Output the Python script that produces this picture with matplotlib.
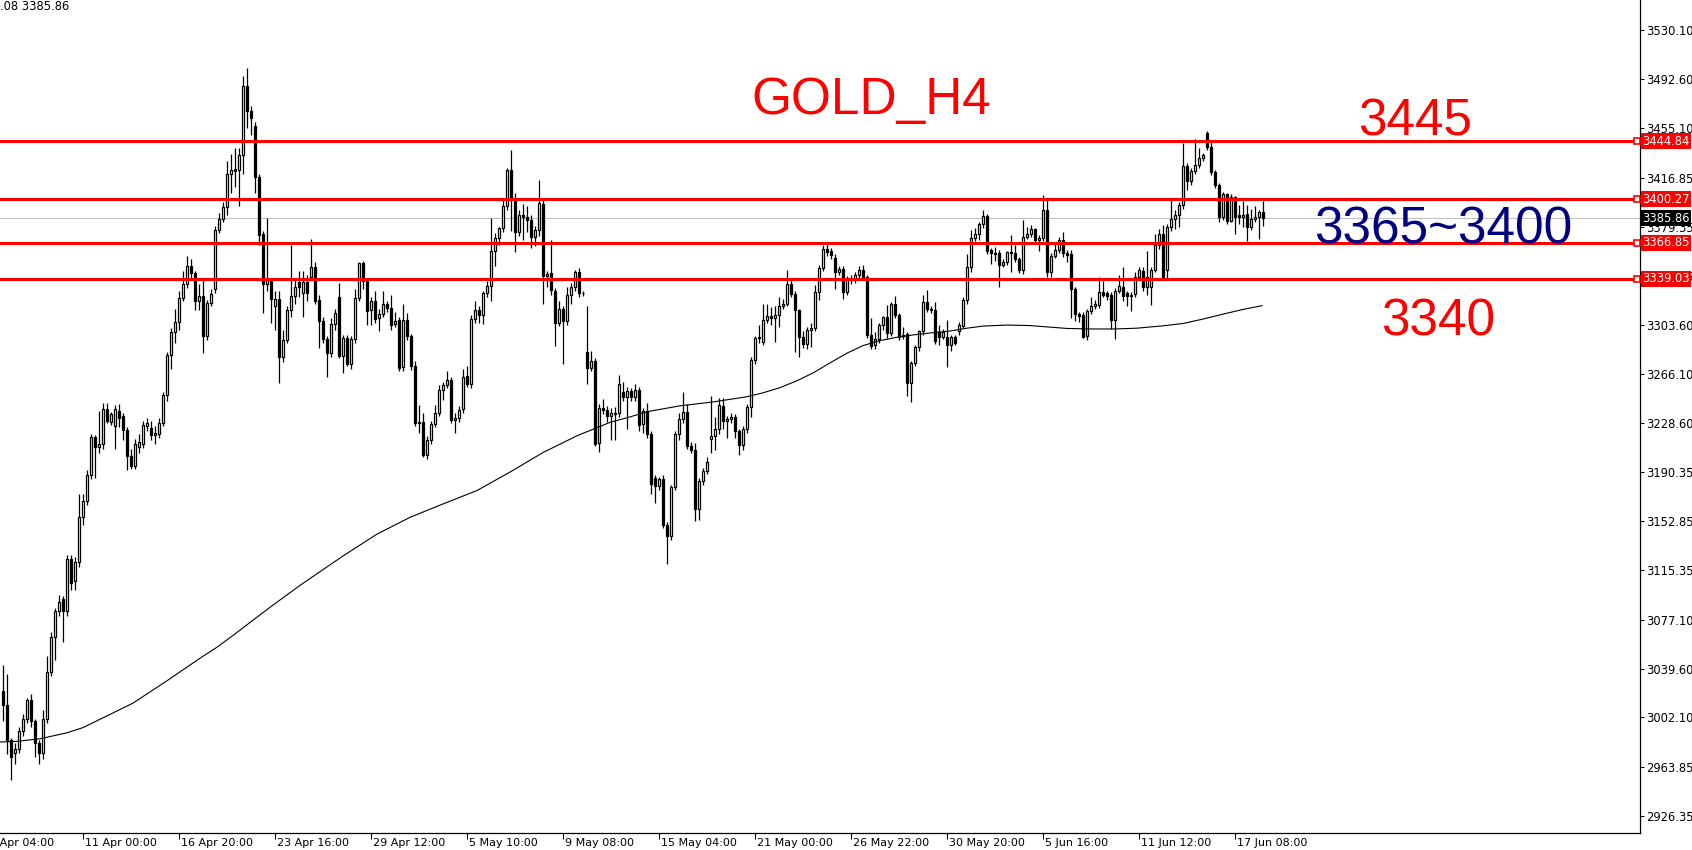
import numpy as np
import matplotlib.pyplot as plt
from matplotlib.transforms import blended_transform_factory

# GOLD H4 candles (oldest first)
opens = [
    3022.3, 3011.5, 2984.4, 2974.3, 2977.9, 2991.6, 3000.7, 3015.1, 2998.9, 2982.6,
    2974.3, 3000.7, 3036.8, 3063.9, 3083.7, 3092.7, 3083.7, 3123.4, 3107.2, 3121.6,
    3155.9, 3168.6, 3188.4, 3217.3, 3210.1, 3211.9, 3239.0, 3229.2, 3226.3, 3237.9,
    3233.6, 3222.7, 3202.9, 3195.6, 3210.1, 3211.9, 3226.3, 3224.5, 3219.1, 3219.8,
    3228.2, 3249.8, 3280.5, 3298.6, 3305.8, 3324.6, 3335.4, 3349.1, 3343.7, 3322.0,
    3325.6, 3295.0, 3320.2, 3331.1, 3376.9, 3385.3, 3394.3, 3419.5, 3423.2, 3422.4,
    3434.0, 3487.5, 3468.3, 3456.4, 3417.7, 3373.7, 3335.4, 3338.3, 3318.4, 3323.8,
    3278.7, 3292.4, 3314.8, 3325.6, 3336.5, 3328.2, 3336.5, 3340.9, 3348.6, 3322.7,
    3306.8, 3292.6, 3282.3, 3304.2, 3325.3, 3279.6, 3293.9, 3274.0, 3292.6, 3324.3,
    3351.4, 3337.7, 3315.0, 3322.2, 3308.8, 3312.4, 3319.7, 3316.6, 3304.2, 3307.3,
    3271.0, 3307.3, 3295.1, 3272.4, 3228.0, 3229.3, 3203.5, 3215.1, 3227.5, 3236.3,
    3253.8, 3257.7, 3261.6, 3230.6, 3232.4, 3239.1, 3264.2, 3258.2, 3308.0, 3315.0,
    3311.4, 3327.9, 3333.9, 3360.2, 3370.8, 3378.5, 3395.0, 3422.9, 3400.2, 3375.1,
    3388.0, 3387.0, 3384.7, 3371.3, 3376.4, 3396.6, 3341.6, 3343.7, 3330.0, 3305.5,
    3315.8, 3306.8, 3326.9, 3333.1, 3344.7, 3328.5, 3283.0, 3270.6, 3275.8, 3213.3,
    3240.2, 3238.3, 3234.0, 3236.0, 3235.8, 3252.0, 3248.2, 3252.6, 3248.2, 3253.8,
    3227.8, 3237.6, 3219.6, 3186.1, 3179.7, 3185.6, 3150.1, 3141.8, 3178.9, 3219.6,
    3231.2, 3236.8, 3211.0, 3207.2, 3162.4, 3183.5, 3191.8, 3215.7, 3218.3, 3223.4,
    3241.5, 3229.9, 3231.2, 3232.9, 3222.1, 3211.3, 3223.4, 3240.7, 3276.7, 3293.7,
    3290.4, 3307.6, 3310.2, 3309.0, 3311.7, 3317.9, 3320.0, 3335.4, 3327.7, 3314.8,
    3294.7, 3289.1, 3300.1, 3301.4, 3329.0, 3347.8, 3361.7, 3360.6, 3355.5, 3344.4,
    3347.0, 3329.0, 3338.5, 3338.5, 3342.4, 3346.2, 3340.6, 3296.3, 3288.6, 3292.9,
    3304.0, 3309.7, 3297.3, 3319.4, 3311.0, 3296.0, 3296.8, 3258.7, 3274.1, 3286.5,
    3298.9, 3321.2, 3315.3, 3315.3, 3298.1, 3294.7, 3294.7, 3288.3, 3294.5, 3298.7,
    3303.0, 3322.8, 3348.1, 3370.7, 3373.8, 3381.0, 3387.2, 3361.0, 3359.0, 3358.9,
    3350.1, 3352.2, 3359.6, 3358.9, 3354.5, 3346.0, 3371.2, 3373.3, 3377.6, 3369.2,
    3370.7, 3392.3, 3344.2, 3357.0, 3361.4, 3369.2, 3358.9, 3358.3, 3331.3, 3312.0,
    3311.5, 3295.3, 3314.6, 3318.5, 3319.2, 3328.7, 3327.9, 3327.0, 3307.4, 3330.1,
    3333.1, 3327.9, 3326.2, 3327.5, 3340.3, 3345.5, 3332.6, 3333.1, 3346.0, 3365.5,
    3373.3, 3346.0, 3378.9, 3385.4, 3387.9, 3395.7, 3425.8, 3414.5, 3422.2, 3426.6,
    3431.7, 3451.5, 3440.7, 3421.4, 3411.1, 3386.7, 3404.2, 3383.6, 3402.1, 3388.0,
    3386.7, 3388.7, 3378.9, 3385.4, 3386.7, 3390.5,
]
highs = [
    3042.2, 3035.0, 2986.0, 2982.0, 2995.0, 3005.0, 3017.0, 3020.0, 3001.0, 2985.0,
    3007.9, 3049.0, 3068.0, 3086.0, 3096.4, 3095.0, 3127.0, 3127.0, 3125.0, 3174.0,
    3174.0, 3192.0, 3220.0, 3219.0, 3237.2, 3244.0, 3244.0, 3237.0, 3242.0, 3243.0,
    3236.0, 3225.0, 3208.0, 3216.0, 3220.0, 3230.0, 3232.0, 3230.0, 3226.0, 3232.0,
    3252.0, 3283.0, 3301.0, 3316.0, 3330.0, 3345.0, 3356.3, 3354.5, 3345.0, 3335.0,
    3340.0, 3323.0, 3331.0, 3380.0, 3390.0, 3398.0, 3430.0, 3435.0, 3440.0, 3440.0,
    3495.0, 3500.8, 3472.0, 3460.0, 3420.0, 3376.0, 3386.0, 3340.0, 3330.0, 3330.0,
    3300.0, 3318.0, 3365.4, 3338.0, 3345.0, 3345.0, 3342.0, 3370.0, 3352.0, 3327.0,
    3310.0, 3295.0, 3309.0, 3316.0, 3335.9, 3296.0, 3296.0, 3295.0, 3331.0, 3352.4,
    3353.0, 3340.0, 3325.0, 3330.0, 3316.0, 3330.0, 3322.0, 3327.0, 3314.0, 3310.0,
    3320.0, 3313.0, 3297.0, 3275.8, 3242.0, 3235.8, 3218.0, 3230.0, 3242.2, 3257.7,
    3260.0, 3268.6, 3264.0, 3236.0, 3241.0, 3270.0, 3271.9, 3311.0, 3322.2, 3318.0,
    3330.0, 3337.2, 3386.2, 3374.0, 3379.0, 3399.7, 3424.7, 3438.4, 3405.0, 3392.0,
    3397.0, 3395.0, 3388.0, 3380.0, 3415.2, 3400.0, 3345.5, 3369.2, 3332.0, 3322.2,
    3318.0, 3332.6, 3336.0, 3346.0, 3347.3, 3330.0, 3318.4, 3284.0, 3278.0, 3243.0,
    3247.0, 3241.0, 3240.0, 3240.7, 3264.9, 3259.8, 3256.0, 3255.0, 3258.0, 3256.0,
    3240.0, 3244.0, 3222.0, 3188.0, 3186.6, 3188.0, 3152.0, 3181.0, 3222.0, 3236.3,
    3252.5, 3243.3, 3214.0, 3213.1, 3186.0, 3194.0, 3202.1, 3249.2, 3232.9, 3247.9,
    3247.9, 3234.0, 3236.0, 3235.0, 3224.0, 3226.0, 3243.0, 3279.0, 3295.0, 3304.0,
    3320.0, 3320.0, 3317.4, 3317.9, 3325.1, 3323.8, 3345.7, 3338.5, 3330.0, 3316.0,
    3299.4, 3302.0, 3305.0, 3334.1, 3349.6, 3365.0, 3365.8, 3363.0, 3358.0, 3348.8,
    3349.0, 3341.0, 3341.8, 3344.0, 3348.8, 3350.1, 3341.8, 3309.2, 3298.1, 3305.0,
    3310.9, 3318.7, 3321.2, 3325.6, 3313.0, 3301.9, 3298.0, 3276.0, 3288.0, 3300.0,
    3326.4, 3330.3, 3318.0, 3321.2, 3304.0, 3300.7, 3307.1, 3296.0, 3296.0, 3306.0,
    3325.4, 3358.3, 3376.4, 3378.4, 3382.8, 3391.8, 3388.7, 3363.0, 3363.5, 3361.0,
    3354.5, 3360.9, 3372.5, 3364.8, 3356.0, 3384.6, 3378.9, 3380.2, 3378.4, 3372.5,
    3403.4, 3399.5, 3359.0, 3367.3, 3371.2, 3375.1, 3361.0, 3361.0, 3333.0, 3314.0,
    3314.0, 3315.9, 3325.2, 3322.8, 3340.3, 3337.8, 3330.0, 3329.0, 3332.0, 3342.4,
    3348.6, 3330.0, 3329.0, 3344.2, 3348.6, 3348.0, 3360.4, 3348.6, 3373.3, 3377.6,
    3380.2, 3381.0, 3399.5, 3392.3, 3398.0, 3443.8, 3427.8, 3424.0, 3446.4, 3439.4,
    3436.0, 3453.0, 3445.9, 3423.0, 3413.0, 3406.0, 3405.2, 3404.0, 3402.6, 3395.7,
    3399.0, 3395.7, 3393.1, 3394.9, 3392.0, 3399.0,
]
lows = [
    2998.9, 2973.6, 2953.7, 2966.0, 2975.0, 2988.0, 2998.0, 2995.0, 2971.8, 2966.4,
    2970.0, 2998.0, 3034.0, 3045.8, 3080.0, 3060.0, 3080.0, 3100.0, 3100.0, 3118.0,
    3150.0, 3165.0, 3185.0, 3186.0, 3205.0, 3208.0, 3228.0, 3227.0, 3208.0, 3225.0,
    3215.0, 3192.0, 3193.0, 3193.0, 3205.0, 3209.0, 3222.0, 3215.0, 3212.0, 3217.0,
    3226.0, 3245.0, 3270.0, 3290.0, 3300.0, 3322.0, 3332.0, 3338.0, 3315.0, 3315.0,
    3282.3, 3292.0, 3318.0, 3328.0, 3374.0, 3383.0, 3388.0, 3405.0, 3410.0, 3395.0,
    3420.0, 3455.0, 3450.0, 3405.0, 3365.0, 3313.0, 3330.0, 3305.0, 3300.0, 3258.9,
    3275.0, 3290.0, 3310.0, 3320.0, 3325.0, 3310.0, 3322.0, 3338.0, 3320.0, 3286.0,
    3290.0, 3263.6, 3279.0, 3300.0, 3278.0, 3266.7, 3272.0, 3270.0, 3290.0, 3322.0,
    3331.0, 3304.0, 3304.0, 3305.0, 3299.0, 3310.0, 3314.0, 3300.0, 3302.0, 3268.0,
    3268.0, 3292.0, 3269.0, 3226.0, 3220.3, 3202.0, 3200.4, 3212.0, 3225.0, 3234.0,
    3246.0, 3255.0, 3228.0, 3221.0, 3229.0, 3236.0, 3256.0, 3255.0, 3305.0, 3305.0,
    3304.7, 3325.0, 3322.0, 3349.3, 3365.0, 3375.0, 3392.0, 3376.0, 3359.7, 3372.0,
    3368.7, 3375.0, 3363.0, 3364.0, 3372.0, 3319.7, 3332.6, 3326.9, 3287.4, 3303.0,
    3273.7, 3304.0, 3319.7, 3330.0, 3325.0, 3326.0, 3258.2, 3268.0, 3211.0, 3206.0,
    3235.0, 3229.3, 3215.0, 3215.0, 3233.0, 3245.0, 3224.0, 3245.0, 3245.0, 3222.0,
    3220.9, 3217.0, 3173.8, 3166.8, 3177.0, 3147.5, 3119.7, 3138.5, 3177.1, 3215.0,
    3228.0, 3208.0, 3205.4, 3153.2, 3153.9, 3181.0, 3189.0, 3205.4, 3207.2, 3220.0,
    3223.4, 3217.0, 3228.0, 3217.0, 3204.1, 3207.2, 3221.0, 3232.9, 3274.0, 3290.0,
    3288.0, 3305.0, 3304.0, 3290.4, 3302.0, 3316.0, 3318.0, 3325.0, 3282.6, 3278.8,
    3286.0, 3285.2, 3286.5, 3299.0, 3322.5, 3345.0, 3357.0, 3354.0, 3331.5, 3342.0,
    3323.8, 3326.4, 3335.4, 3336.0, 3340.0, 3338.0, 3294.0, 3285.0, 3285.2, 3290.0,
    3300.0, 3292.9, 3295.0, 3309.0, 3292.0, 3293.0, 3249.2, 3244.8, 3272.0, 3284.0,
    3296.0, 3314.0, 3313.0, 3289.0, 3288.6, 3293.0, 3271.1, 3283.7, 3288.0, 3296.0,
    3301.0, 3320.0, 3344.2, 3368.0, 3368.6, 3378.0, 3358.0, 3350.6, 3353.2, 3332.6,
    3348.0, 3350.0, 3344.2, 3352.0, 3343.4, 3343.0, 3370.0, 3371.0, 3366.0, 3360.9,
    3368.0, 3340.3, 3340.3, 3355.0, 3359.0, 3356.0, 3351.9, 3308.9, 3306.9, 3306.3,
    3294.0, 3291.9, 3312.0, 3316.0, 3317.0, 3325.0, 3323.0, 3300.4, 3292.7, 3328.0,
    3322.3, 3318.5, 3314.6, 3325.0, 3338.0, 3330.0, 3326.9, 3319.2, 3344.0, 3362.0,
    3338.0, 3340.0, 3376.0, 3377.6, 3378.9, 3393.0, 3407.2, 3411.1, 3420.0, 3424.0,
    3430.0, 3438.0, 3419.0, 3409.0, 3382.8, 3384.0, 3381.0, 3382.8, 3373.8, 3381.5,
    3378.9, 3368.1, 3377.0, 3383.0, 3369.9, 3380.1,
]
closes = [
    3011.5, 2984.4, 2971.8, 2977.9, 2991.6, 3000.7, 3015.1, 2998.9, 2982.6, 2974.3,
    3000.7, 3036.8, 3063.9, 3083.7, 3090.9, 3083.7, 3123.4, 3105.4, 3121.6, 3155.9,
    3168.6, 3188.4, 3217.3, 3210.1, 3211.9, 3239.0, 3230.0, 3235.4, 3239.0, 3231.8,
    3222.7, 3202.9, 3195.6, 3211.9, 3213.7, 3227.1, 3228.2, 3219.1, 3220.9, 3228.2,
    3249.8, 3280.5, 3298.6, 3305.8, 3324.6, 3335.4, 3349.1, 3343.7, 3322.0, 3325.6,
    3295.0, 3320.2, 3327.5, 3376.9, 3385.3, 3394.3, 3419.5, 3422.4, 3422.0, 3434.0,
    3487.5, 3468.3, 3462.9, 3417.7, 3372.6, 3335.4, 3338.3, 3323.8, 3323.8, 3278.7,
    3292.4, 3314.8, 3325.6, 3332.9, 3332.9, 3336.5, 3328.5, 3348.6, 3322.2, 3306.8,
    3292.6, 3282.3, 3304.2, 3313.2, 3279.6, 3293.9, 3274.0, 3292.6, 3324.3, 3351.4,
    3337.7, 3314.5, 3322.2, 3308.0, 3312.4, 3319.7, 3316.6, 3303.7, 3306.8, 3270.6,
    3307.3, 3295.1, 3271.9, 3228.0, 3229.3, 3203.5, 3215.1, 3227.5, 3236.3, 3253.8,
    3257.7, 3261.6, 3230.6, 3232.4, 3238.4, 3263.4, 3258.2, 3308.0, 3315.0, 3311.4,
    3327.9, 3333.9, 3360.2, 3370.8, 3378.5, 3395.0, 3422.9, 3400.2, 3375.1, 3388.0,
    3386.7, 3384.7, 3371.3, 3376.4, 3397.6, 3341.6, 3342.8, 3330.5, 3305.5, 3315.8,
    3306.8, 3326.9, 3333.1, 3344.7, 3327.9, 3328.0, 3270.6, 3275.8, 3212.5, 3240.2,
    3238.3, 3234.0, 3236.0, 3235.3, 3258.2, 3248.2, 3252.6, 3248.2, 3253.8, 3226.7,
    3237.6, 3219.6, 3181.5, 3179.7, 3185.6, 3150.1, 3141.8, 3178.9, 3219.6, 3231.2,
    3236.8, 3210.6, 3207.2, 3162.4, 3183.5, 3191.8, 3198.2, 3218.3, 3223.4, 3242.2,
    3229.9, 3231.2, 3232.9, 3222.1, 3211.3, 3223.4, 3240.7, 3276.7, 3293.7, 3294.2,
    3307.6, 3310.2, 3309.0, 3311.0, 3317.9, 3320.0, 3335.4, 3327.7, 3314.8, 3294.2,
    3289.1, 3299.9, 3301.4, 3329.0, 3347.8, 3361.7, 3360.0, 3357.3, 3344.4, 3347.0,
    3329.0, 3339.3, 3339.3, 3342.4, 3346.2, 3340.6, 3296.3, 3287.8, 3292.9, 3304.0,
    3309.7, 3297.3, 3319.4, 3311.0, 3294.7, 3295.0, 3258.7, 3274.1, 3286.5, 3298.9,
    3321.2, 3316.1, 3316.1, 3291.1, 3294.2, 3298.1, 3288.6, 3294.5, 3290.1, 3303.8,
    3322.8, 3348.1, 3370.7, 3373.8, 3381.0, 3387.2, 3360.4, 3358.9, 3358.4, 3350.1,
    3352.2, 3359.6, 3358.9, 3354.5, 3346.0, 3371.2, 3373.3, 3377.6, 3369.2, 3370.7,
    3391.8, 3344.2, 3357.0, 3361.4, 3369.2, 3358.9, 3357.5, 3331.3, 3312.0, 3310.8,
    3294.5, 3314.6, 3318.5, 3319.8, 3328.7, 3327.0, 3326.2, 3307.4, 3330.1, 3333.9,
    3326.2, 3326.2, 3327.0, 3340.3, 3346.0, 3332.6, 3340.3, 3346.0, 3365.5, 3373.3,
    3340.3, 3378.9, 3385.4, 3387.9, 3395.7, 3425.8, 3414.5, 3422.2, 3426.6, 3431.7,
    3434.3, 3440.7, 3421.4, 3411.1, 3386.7, 3404.2, 3383.6, 3402.1, 3386.7, 3386.7,
    3388.0, 3378.9, 3385.4, 3386.7, 3390.5, 3385.86,
]

# moving average, sampled along the drawn line (bar index, price)
ma_bars = [-0.75, 3.4, 9.25, 16, 20, 32.5, 41, 49.25, 53.5, 57.5, 61.75, 67.25, 74.25,
           79, 85, 93.5, 101.75, 110, 118.5, 126.75, 135, 143.5, 151.75, 156.75,
           161, 169.25, 177.5, 186, 190, 194.25, 198.5, 202.5, 206.75, 211, 215,
           219, 223.5, 227.5, 231.75, 236.75, 241, 245, 251, 256.75, 261.75,
           266, 272, 278, 283.5, 290, 295, 300, 305, 310, 314.75]
ma_vals = [2983.1, 2983.6, 2985.6, 2990.2, 2994.2, 3013.0, 3030.2, 3047.5, 3056.0, 3065.0,
           3075.0, 3087.8, 3103.5, 3113.5, 3126.1, 3142.9, 3155.8, 3166.1, 3176.4, 3190.6,
           3205.6, 3218.5, 3228.8, 3233.0, 3237.0, 3241.5, 3244.5, 3248.5, 3251.5, 3255.5,
           3260.8, 3266.8, 3274.5, 3282.0, 3287.8, 3291.5, 3294.2, 3296.0, 3297.5, 3299.0,
           3301.2, 3302.8, 3303.6, 3303.2, 3302.0, 3301.0, 3300.6, 3300.6, 3301.2, 3303.0,
           3304.8, 3308.2, 3312.0, 3315.6, 3318.5]

levels = [3444.84, 3400.27, 3366.85, 3339.03]
bid = 3385.86

price_ticks = [3530.10, 3492.60, 3455.10, 3416.85, 3379.35, 3341.35, 3303.60, 3266.10,
               3228.60, 3190.35, 3152.85, 3115.35, 3077.10, 3039.60, 3002.10, 2963.85,
               2926.35]
time_bars = [-4, 20, 44, 68, 92, 116, 140, 164, 188, 212, 236, 260, 284, 308]
time_labels = ["7 Apr 04:00", "11 Apr 00:00", "16 Apr 20:00", "23 Apr 16:00",
               "29 Apr 12:00", "5 May 10:00", "9 May 08:00", "15 May 04:00",
               "21 May 00:00", "26 May 22:00", "30 May 20:00", "5 Jun 16:00",
               "11 Jun 12:00", "17 Jun 08:00"]

W, H = 1692, 850
fig = plt.figure(figsize=(W / 100, H / 100), dpi=100, facecolor='white')
ax = fig.add_axes([0, 17 / H, 1640 / W, 833 / H])

o = np.array(opens)
c = np.array(closes)
hi = np.array(highs)
lo = np.array(lows)
idx = np.arange(len(c))
up = c >= o

# candles
ax.vlines(idx, lo, hi, color='black', lw=0.9, zorder=3)
bot = np.minimum(o, c)
hgt = np.maximum(np.abs(c - o), 0.35)
ax.bar(idx[up], hgt[up], bottom=bot[up], width=0.55, color='white',
       edgecolor='black', lw=0.9, zorder=4)
ax.bar(idx[~up], hgt[~up], bottom=bot[~up], width=0.55, color='black',
       edgecolor='black', lw=0.9, zorder=4)

ax.plot(ma_bars, ma_vals, color='black', lw=0.8, zorder=5)

ax.axhline(bid, color='#C0C0C0', lw=0.75, zorder=1)
yt = blended_transform_factory(ax.transAxes, ax.transData)
for lvl in levels:
    ax.axhline(lvl, color='#FF0000', lw=2.2, zorder=6)
    ax.plot(1637 / 1640, lvl, transform=yt, marker='s', ms=4, mfc='white',
            mec='#FF0000', mew=1.2, clip_on=False, zorder=7)

ax.set_xlim(-0.75, 409.25)
ax.set_ylim(2913.17, 3553.45)

ax.yaxis.tick_right()
ax.set_yticks(price_ticks)
ax.set_yticklabels([f'{v:.2f}' for v in price_ticks])
ax.tick_params(axis='y', direction='out', length=3, width=0.75, pad=1.5,
               labelsize=8.3, colors='black')
ax.set_xticks([b for b in time_bars if b > -0.75])
ax.set_xticklabels([])
ax.tick_params(axis='x', direction='out', length=4, width=0.75)
for s in ['top', 'left']:
    ax.spines[s].set_visible(False)
for s in ['right', 'bottom']:
    ax.spines[s].set_linewidth(0.9)

xt = blended_transform_factory(ax.transData, fig.transFigure)
for b, lab in zip(time_bars, time_labels):
    ax.text(b + 0.5, 1 - 838 / H, lab, transform=xt, ha='left', va='top',
            fontsize=8, clip_on=False)

# price tags on the scale
for lvl in levels:
    ax.text(1642 / 1640, lvl, f'{lvl:.2f}', transform=yt, ha='left', va='center',
            color='white', fontsize=8.3, clip_on=False, zorder=10,
            bbox=dict(boxstyle='square,pad=0.12', fc='#FF0000', ec='none'))
ax.text(1642 / 1640, bid, f'{bid:.2f}', transform=yt, ha='left', va='center',
        color='white', fontsize=8.3, clip_on=False, zorder=10,
        bbox=dict(boxstyle='square,pad=0.12', fc='black', ec='none'))

fig.text(0, 1, '.08 3385.86', ha='left', va='top', fontsize=8.3)

big = dict(family='Liberation Sans', fontsize=37, ha='center', va='baseline')
fig.text(871 / W, 1 - 114 / H, 'GOLD_H4', color='#FF0000', **big)
fig.text(1415 / W, 1 - 136 / H, '3445', color='#FF0000', **big)
fig.text(1443 / W, 1 - 244 / H, '3365~3400', color='#000080', **big)
fig.text(1438 / W, 1 - 336 / H, '3340', color='#FF0000', **big)

fig.savefig('out.png', dpi=100, facecolor='white')
